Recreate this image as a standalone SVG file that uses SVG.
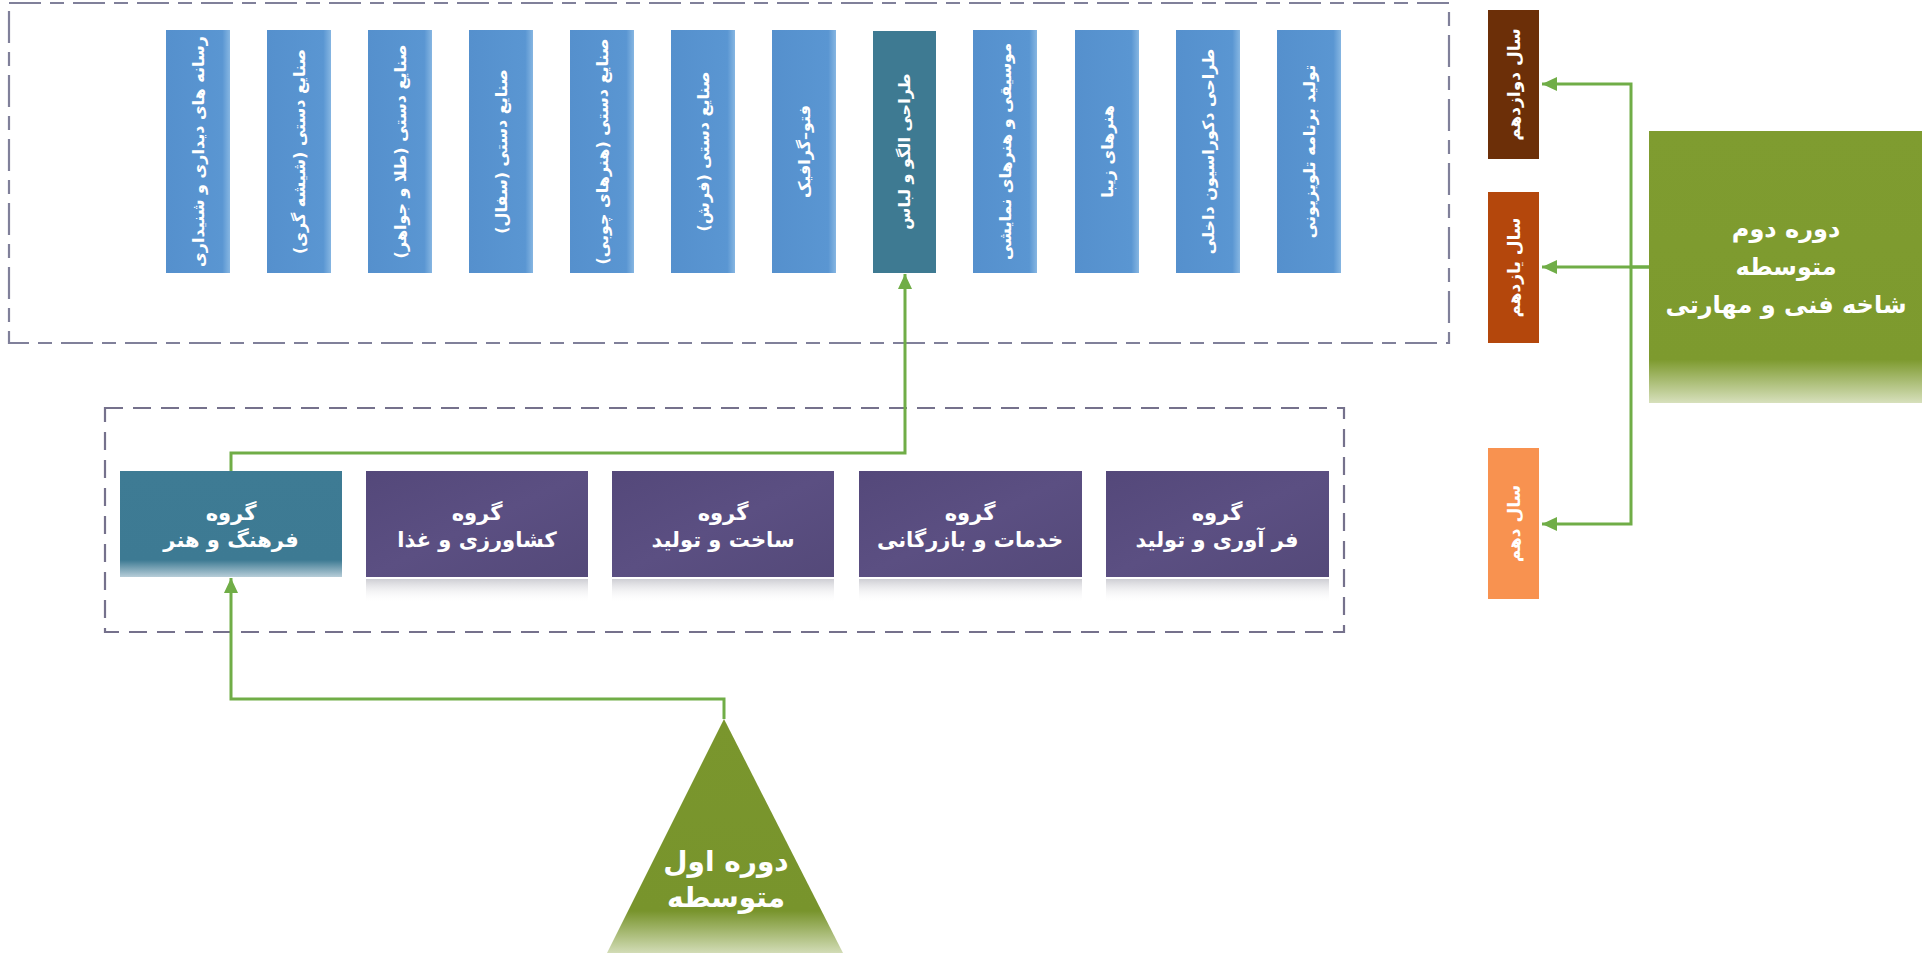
<svg xmlns="http://www.w3.org/2000/svg" width="1930" height="957" viewBox="0 0 1930 957">
<defs>
<style>
text{font-family:'DejaVu Sans','Noto Sans',sans-serif;font-weight:bold;fill:#ffffff;direction:rtl}
.vt{font-size:16px}
.gt{font-size:21px}
.yt{font-size:17px}
.dash1{fill:none;stroke:#80809A;stroke-width:2.2;stroke-dasharray:32 9 14 9}
.dash2{fill:none;stroke:#75718C;stroke-width:2.2;stroke-dasharray:18 10}
.conn{fill:none;stroke:#70AD47;stroke-width:3}
</style>
<linearGradient id="blueG" x1="0" y1="0" x2="1" y2="0">
<stop offset="0" stop-color="#5590CD"/>
<stop offset="0.88" stop-color="#5A96D2"/>
<stop offset="1" stop-color="#86B6E2"/>
</linearGradient>
<linearGradient id="purpG" x1="0" y1="0" x2="1" y2="1">
<stop offset="0" stop-color="#54487A"/>
<stop offset="0.5" stop-color="#5B4F82"/>
<stop offset="1" stop-color="#544979"/>
</linearGradient>
<linearGradient id="tealG" x1="0" y1="0" x2="0" y2="1">
<stop offset="0" stop-color="#3E7B94"/>
<stop offset="0.84" stop-color="#3D7A93"/>
<stop offset="1" stop-color="#B7CDD8"/>
</linearGradient>
<linearGradient id="greenG" x1="0" y1="0" x2="0" y2="1">
<stop offset="0" stop-color="#7F9C30"/>
<stop offset="0.84" stop-color="#7D9A2E"/>
<stop offset="1" stop-color="#D7E0BC"/>
</linearGradient>
<linearGradient id="triG" x1="0" y1="0" x2="0" y2="1">
<stop offset="0" stop-color="#7A962D"/>
<stop offset="0.82" stop-color="#78942C"/>
<stop offset="1" stop-color="#D2DCB6"/>
</linearGradient>
<linearGradient id="shadowG" x1="0" y1="0" x2="0" y2="1">
<stop offset="0" stop-color="#C8C8CE" stop-opacity="0.9"/>
<stop offset="1" stop-color="#FFFFFF" stop-opacity="0"/>
</linearGradient>
<marker id="arr" markerUnits="userSpaceOnUse" markerWidth="16" markerHeight="16" refX="15" refY="7" orient="auto">
<path d="M0,0 L15,7 L0,14 z" fill="#70AD47"/>
</marker>
</defs>
<rect width="1930" height="957" fill="#ffffff"/>

<g id="frame-top"><rect class="dash1" x="9" y="3" width="1440" height="340"/></g>
<g id="frame-bottom"><rect class="dash2" x="105" y="408" width="1239" height="224"/></g>

<g id="connectors">
<path class="conn" d="M1649,267 H1631 V84 H1542" marker-end="url(#arr)"/>
<path class="conn" d="M1649,267 H1542" marker-end="url(#arr)"/>
<path class="conn" d="M1631,267 V524 H1542" marker-end="url(#arr)"/>
<path class="conn" d="M724,719 V699 H231 V578" marker-end="url(#arr)"/>
<path class="conn" d="M231,471 V453 H905 V274" marker-end="url(#arr)"/>
</g>

<g id="v1"><rect x="166" y="30" width="64" height="243" fill="url(#blueG)"/><text class="vt" text-anchor="middle" dominant-baseline="central" transform="translate(198,151.5) rotate(-90)">رسانه های دیداری و شنیداری</text></g>
<g id="v2"><rect x="267" y="30" width="64" height="243" fill="url(#blueG)"/><text class="vt" text-anchor="middle" dominant-baseline="central" transform="translate(299,151.5) rotate(-90)">صنایع دستی (شیشه گری)</text></g>
<g id="v3"><rect x="368" y="30" width="64" height="243" fill="url(#blueG)"/><text class="vt" text-anchor="middle" dominant-baseline="central" transform="translate(400,151.5) rotate(-90)">صنایع دستی (طلا و جواهر)</text></g>
<g id="v4"><rect x="469" y="30" width="64" height="243" fill="url(#blueG)"/><text class="vt" text-anchor="middle" dominant-baseline="central" transform="translate(501,151.5) rotate(-90)">صنایع دستی (سفال)</text></g>
<g id="v5"><rect x="570" y="30" width="64" height="243" fill="url(#blueG)"/><text class="vt" text-anchor="middle" dominant-baseline="central" transform="translate(602,151.5) rotate(-90)">صنایع دستی (هنرهای چوبی)</text></g>
<g id="v6"><rect x="671" y="30" width="64" height="243" fill="url(#blueG)"/><text class="vt" text-anchor="middle" dominant-baseline="central" transform="translate(703,151.5) rotate(-90)">صنایع دستی (فرش)</text></g>
<g id="v7"><rect x="772" y="30" width="64" height="243" fill="url(#blueG)"/><text class="vt" text-anchor="middle" dominant-baseline="central" transform="translate(804,151.5) rotate(-90)">فتو–گرافیک</text></g>
<g id="v8"><rect x="873" y="31" width="63" height="242" fill="#3E7A92"/><text class="vt" text-anchor="middle" dominant-baseline="central" transform="translate(904.5,151.5) rotate(-90)">طراحی الگو و لباس</text></g>
<g id="v9"><rect x="973" y="30" width="64" height="243" fill="url(#blueG)"/><text class="vt" text-anchor="middle" dominant-baseline="central" transform="translate(1005,151.5) rotate(-90)">موسیقی و هنرهای نمایشی</text></g>
<g id="v10"><rect x="1075" y="30" width="64" height="243" fill="url(#blueG)"/><text class="vt" text-anchor="middle" dominant-baseline="central" transform="translate(1107,151.5) rotate(-90)">هنرهای زیبا</text></g>
<g id="v11"><rect x="1176" y="30" width="64" height="243" fill="url(#blueG)"/><text class="vt" text-anchor="middle" dominant-baseline="central" transform="translate(1208,151.5) rotate(-90)">طراحی دکوراسیون داخلی</text></g>
<g id="v12"><rect x="1277" y="30" width="64" height="243" fill="url(#blueG)"/><text class="vt" text-anchor="middle" dominant-baseline="central" transform="translate(1309,151.5) rotate(-90)">تولید برنامه تلویزیونی</text></g>

<g id="g1"><rect x="120" y="471" width="222" height="106" fill="url(#tealG)"/><text class="gt" x="231" y="513" text-anchor="middle" dominant-baseline="central">گروه</text><text class="gt" x="231" y="540" text-anchor="middle" dominant-baseline="central">فرهنگ و هنر</text></g>
<g id="g2"><rect x="366" y="579" width="222" height="24" fill="url(#shadowG)"/><rect x="366" y="471" width="222" height="106" fill="url(#purpG)"/><text class="gt" x="477" y="513" text-anchor="middle" dominant-baseline="central">گروه</text><text class="gt" x="477" y="540" text-anchor="middle" dominant-baseline="central">کشاورزی و غذا</text></g>
<g id="g3"><rect x="612" y="579" width="222" height="24" fill="url(#shadowG)"/><rect x="612" y="471" width="222" height="106" fill="url(#purpG)"/><text class="gt" x="723" y="513" text-anchor="middle" dominant-baseline="central">گروه</text><text class="gt" x="723" y="540" text-anchor="middle" dominant-baseline="central">ساخت و تولید</text></g>
<g id="g4"><rect x="859" y="579" width="223" height="24" fill="url(#shadowG)"/><rect x="859" y="471" width="223" height="106" fill="url(#purpG)"/><text class="gt" x="970" y="513" text-anchor="middle" dominant-baseline="central">گروه</text><text class="gt" x="970" y="540" text-anchor="middle" dominant-baseline="central">خدمات و بازرگانی</text></g>
<g id="g5"><rect x="1106" y="579" width="223" height="24" fill="url(#shadowG)"/><rect x="1106" y="471" width="223" height="106" fill="url(#purpG)"/><text class="gt" x="1217" y="513" text-anchor="middle" dominant-baseline="central">گروه</text><text class="gt" x="1217" y="540" text-anchor="middle" dominant-baseline="central">فر آوری و تولید</text></g>

<g id="y12"><rect x="1488" y="10" width="51" height="149" fill="#6C2F08"/><text class="yt" text-anchor="middle" dominant-baseline="central" transform="translate(1514,84.5) rotate(-90)">سال دوازدهم</text></g>
<g id="y11"><rect x="1488" y="192" width="51" height="151" fill="#B4470C"/><text class="yt" text-anchor="middle" dominant-baseline="central" transform="translate(1514,267.5) rotate(-90)">سال یازدهم</text></g>
<g id="y10"><rect x="1488" y="448" width="51" height="151" fill="#F89250"/><text class="yt" text-anchor="middle" dominant-baseline="central" transform="translate(1514,523.5) rotate(-90)">سال دهم</text></g>

<g id="second-cycle"><rect x="1649" y="131" width="273" height="272" fill="url(#greenG)"/><text x="1786" y="229" font-size="24" text-anchor="middle" dominant-baseline="central">دوره دوم</text><text x="1786" y="267" font-size="24" text-anchor="middle" dominant-baseline="central">متوسطه</text><text x="1786" y="305" font-size="24" text-anchor="middle" dominant-baseline="central">شاخه فنی و مهارتی</text></g>

<g id="first-cycle"><path d="M724,719 L843,953 L607,953 Z" fill="url(#triG)"/><text x="726" y="861" font-size="28" text-anchor="middle" dominant-baseline="central">دوره اول</text><text x="726" y="897" font-size="28" text-anchor="middle" dominant-baseline="central">متوسطه</text></g>
</svg>
